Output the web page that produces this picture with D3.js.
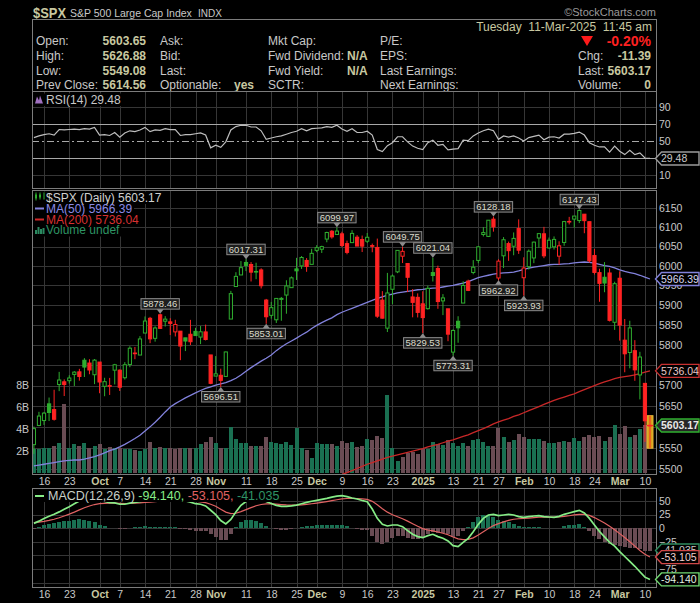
<!DOCTYPE html>
<html>
<head>
<meta charset="utf-8">
<script src="https://d3js.org/d3.v7.min.js"></script>
<style>
	body { margin: 0; background: #000; }
	svg { display: block; font-family: Arial, "Liberation Sans", sans-serif; }
</style>
</head>
<body>
<script>

// daily bars 12-Sep-2024 .. 11-Mar-2025 (last bar is intraday)
const dates = [
	"2024-09-12","2024-09-13","2024-09-16","2024-09-17","2024-09-18","2024-09-19","2024-09-20","2024-09-23","2024-09-24","2024-09-25","2024-09-26","2024-09-27","2024-09-30",
	"2024-10-01","2024-10-02","2024-10-03","2024-10-04","2024-10-07","2024-10-08","2024-10-09","2024-10-10","2024-10-11","2024-10-14","2024-10-15","2024-10-16","2024-10-17","2024-10-18","2024-10-21","2024-10-22","2024-10-23","2024-10-24","2024-10-25","2024-10-28","2024-10-29","2024-10-30","2024-10-31",
	"2024-11-01","2024-11-04","2024-11-05","2024-11-06","2024-11-07","2024-11-08","2024-11-11","2024-11-12","2024-11-13","2024-11-14","2024-11-15","2024-11-18","2024-11-19","2024-11-20","2024-11-21","2024-11-22","2024-11-25","2024-11-26","2024-11-27","2024-11-29",
	"2024-12-02","2024-12-03","2024-12-04","2024-12-05","2024-12-06","2024-12-09","2024-12-10","2024-12-11","2024-12-12","2024-12-13","2024-12-16","2024-12-17","2024-12-18","2024-12-19","2024-12-20","2024-12-23","2024-12-24","2024-12-26","2024-12-27","2024-12-30","2024-12-31",
	"2025-01-02","2025-01-03","2025-01-06","2025-01-07","2025-01-08","2025-01-10","2025-01-13","2025-01-14","2025-01-15","2025-01-16","2025-01-17","2025-01-21","2025-01-22","2025-01-23","2025-01-24","2025-01-27","2025-01-28","2025-01-29","2025-01-30","2025-01-31",
	"2025-02-03","2025-02-04","2025-02-05","2025-02-06","2025-02-07","2025-02-10","2025-02-11","2025-02-12","2025-02-13","2025-02-14","2025-02-18","2025-02-19","2025-02-20","2025-02-21","2025-02-24","2025-02-25","2025-02-26","2025-02-27","2025-02-28",
	"2025-03-03","2025-03-04","2025-03-05","2025-03-06","2025-03-07","2025-03-10","2025-03-11"
];

const open = [
	5557.48,5603.34,5615.21,5655.51,5641.68,5702.63,5709.22,5711.90,5727.34,5733.65,5762.22,5755.36,5726.52,
	5757.73,5698.14,5698.19,5737.80,5737.80,5719.14,5751.80,5778.36,5775.09,5829.81,5866.74,5816.58,5875.62,5859.43,5857.82,5832.70,5834.50,5817.80,5826.75,5833.93,5819.68,5832.65,5775.34,
	5723.22,5725.15,5722.43,5864.89,5947.21,5976.76,6008.86,6003.60,5985.75,5989.67,5912.79,5874.17,5863.04,5914.45,5925.51,5944.36,5992.28,6000.03,6014.11,6003.98,
	6040.11,6042.97,6069.39,6089.84,6081.38,6083.01,6057.59,6060.15,6074.29,6068.17,6063.79,6052.55,6047.65,5912.71,5842.00,5940.25,5984.74,6024.97,6006.17,5920.67,5919.74,
	5903.26,5891.07,5982.81,5993.26,5910.66,5890.66,5782.34,5859.28,5905.20,5961.01,5983.12,6014.12,6081.39,6076.32,6121.43,5969.04,6026.01,6057.70,6050.75,6096.79,
	5969.65,5998.14,6020.45,6072.22,6083.13,6046.40,6049.32,6025.08,6060.59,6115.52,6121.60,6117.76,6134.50,6114.82,6026.69,5982.73,5970.87,5981.88,5856.74,
	5968.33,5811.98,5781.39,5785.87,5726.01,5705.37,5603.65
];
const high = [
	5600.71,5636.27,5636.05,5670.81,5689.75,5733.57,5715.14,5725.36,5735.32,5741.03,5767.37,5764.76,5765.14,
	5757.73,5719.14,5718.78,5753.24,5739.34,5757.60,5796.80,5795.03,5822.13,5871.41,5870.36,5846.52,5878.46,5872.17,5866.92,5863.04,5834.85,5817.80,5862.82,5842.92,5847.19,5850.94,5775.34,
	5772.51,5741.43,5783.44,5936.14,5983.84,6012.45,6017.31,6009.92,6008.19,5993.88,5915.71,5908.12,5917.12,5920.67,5963.21,5972.90,6020.75,6025.42,6020.16,6044.17,
	6053.58,6052.07,6088.51,6092.80,6099.97,6088.51,6065.40,6092.59,6079.68,6078.58,6085.19,6057.68,6070.67,5935.52,5982.06,5978.25,6040.10,6049.75,6006.17,5940.79,5929.74,
	5935.09,5949.34,6021.04,6000.68,5927.89,5890.66,5838.91,5871.92,5960.61,5964.69,6014.96,6051.51,6100.81,6118.73,6128.18,6017.17,6074.54,6062.83,6086.64,6120.91,
	6022.13,6042.48,6062.86,6084.03,6101.28,6073.38,6076.28,6063.63,6116.91,6127.47,6129.63,6147.43,6134.50,6114.82,6043.65,5992.65,6009.82,5993.69,5959.40,
	5986.09,5865.08,5860.59,5812.08,5783.01,5705.37,5626.88
];
const low = [
	5535.50,5601.65,5604.53,5614.05,5615.08,5686.42,5674.49,5704.94,5698.99,5712.06,5721.01,5727.77,5703.53,
	5681.28,5674.00,5677.12,5702.83,5686.85,5714.56,5745.02,5764.76,5775.09,5829.81,5804.48,5808.34,5840.25,5846.11,5824.81,5821.17,5762.41,5784.92,5799.98,5823.08,5802.17,5811.28,5703.41,
	5723.22,5696.51,5722.10,5864.89,5947.21,5976.76,5986.69,5960.08,5965.91,5942.28,5853.01,5865.95,5855.01,5860.58,5878.26,5944.36,5963.91,5992.27,5984.87,6003.98,
	6035.33,6033.39,6061.15,6070.43,6079.98,6048.63,6029.89,6060.15,6051.25,6035.77,6059.14,6035.19,5867.79,5866.07,5832.30,5902.57,5981.44,6007.37,5932.95,5869.16,5868.86,
	5829.53,5888.66,5960.01,5890.68,5874.78,5809.44,5773.31,5805.58,5905.20,5935.54,5978.44,6006.88,6076.13,6074.67,6088.74,5962.92,5994.63,6012.96,6027.46,6030.93,
	5923.93,5990.87,6007.06,6046.83,6019.96,6044.84,6042.34,6003.00,6051.97,6107.62,6099.51,6111.15,6084.59,6008.56,5977.83,5908.49,5932.69,5858.78,5837.66,
	5810.91,5732.59,5742.35,5711.64,5666.29,5564.02,5549.08
];
const close = [
	5595.76,5626.02,5633.09,5634.58,5618.26,5713.64,5702.55,5718.57,5732.93,5722.26,5745.37,5738.17,5762.48,
	5708.75,5709.54,5699.94,5751.07,5695.94,5751.13,5792.04,5780.05,5815.03,5859.85,5815.26,5842.47,5841.47,5864.67,5853.98,5851.20,5797.42,5809.86,5808.12,5823.52,5832.92,5813.67,5705.45,
	5728.80,5712.69,5782.76,5929.04,5973.10,5995.54,6001.35,5983.99,5985.38,5949.17,5870.62,5893.62,5916.98,5917.11,5948.71,5969.34,5987.37,6021.63,5998.74,6032.38,
	6047.15,6049.88,6086.49,6075.11,6090.27,6052.85,6034.91,6084.19,6051.25,6051.09,6074.08,6050.61,5872.16,5867.08,5930.85,5974.07,6040.04,6037.59,5970.84,5906.94,5881.63,
	5868.55,5942.47,5975.38,5909.03,5918.25,5827.04,5836.22,5842.91,5949.91,5937.34,5996.66,6049.24,6086.37,6118.71,6101.24,6012.28,6067.70,6039.31,6071.17,6040.53,
	5994.57,6037.88,6061.48,6083.57,6025.99,6066.44,6068.50,6051.97,6115.07,6114.63,6129.58,6144.15,6117.52,6013.13,5983.25,5955.25,5956.06,5861.57,5954.50,
	5849.72,5778.15,5842.63,5738.52,5770.20,5614.56,5603.17
];

// volume, billions of shares
const volume = [
	2.2,2.2,2.25,2.25,2.45,2.7,6.3,2.3,2.6,2.45,2.7,2.25,2.5,
	2.6,2.15,2.35,2.3,2.25,2.2,2.15,2.1,2.0,2.2,2.85,2.3,2.4,2.25,2.3,2.2,2.3,2.3,2.3,2.25,2.6,2.85,3.3,
	2.7,2.3,2.3,4.15,3.1,2.75,2.75,2.5,2.5,2.5,3.25,2.85,2.7,2.6,2.85,2.55,4.1,2.3,2.05,1.4,
	2.7,2.6,2.65,2.64,2.45,2.9,2.76,2.82,2.33,2.45,3.09,3.0,3.36,3.15,7.09,2.24,1.09,1.42,1.79,1.94,1.73,
	2.15,2.15,2.82,2.64,2.52,3.0,2.7,2.45,2.7,2.45,3.0,3.09,2.82,2.45,2.45,4.06,3.24,2.82,3.0,3.55,
	3.24,3.09,3.09,3.09,2.91,2.7,2.7,2.82,2.9,2.8,3.2,2.9,3.3,3.45,3.3,3.4,2.9,3.3,4.36,
	3.55,4.27,3.3,3.45,4.0,4.36,0
];

const ma50 = [
	5507,5509,5511,5513,5515,5517,5519,5520,5521,5521,5523,5526,5529,
	5533,5538,5543,5547,5552,5558,5565,5572,5580,5590,5600,5611,5623,5636,5648,5656,5663,5670,5676,5682,5688,5693,5697,
	5701,5704,5707,5712,5718,5726,5735,5744,5752,5760,5767,5775,5786,5795,5803,5810,5817,5825,5832,5841,
	5849,5856,5862,5868,5876,5882,5887,5892,5897,5902,5907,5912,5917,5921,5925,5928,5931,5933,5935,5937,5939,
	5940,5942,5943,5944,5946,5948,5950,5953,5956,5960,5965,5970,5973,5976,5979,5981,5982,5983,5984,5987,
	5991,5994,5997,5999,6001,6003,6004,6004,6005,6006,6008,6009,6010,6009,6007,6004,6001,5999,5995,
	5990,5986,5983,5980,5976,5971,5966.39
];
const ma200Start = "2024-12-09";
const ma200 = [
	5487,5491,5496,5501,5506,5511,5515,5519,5523,5527,5530,5533,5536,5539,5542,5545,5548,5552,5555,5558,
	5562,5566,5569,5573,5577,5581,5586,5591,5596,5601,5607,5612,5616,5620,5625,5629,5634,5639,5644,5649,
	5654,5659,5664,5668,5672,5676,5680,5685,5690,5695,5700,5705,5709,5713,5717,5720,5722,5724,5726,5729,
	5733,5736.04
];

const rsi = [
	54,56,57.5,58.5,57,63.5,63,63.5,64,63.5,64.5,64,66,
	57,57.5,56.5,60,54.5,59.5,62,61,63,66,61,63,62.5,64.5,63.5,63.5,56.5,57.5,57.5,58.5,59.5,57,42,
	45,42.5,49,63,67,68.5,68.5,66.5,66.5,62,52,53.5,55,56,58,60,61.5,64.5,62,64.5,
	65,65.5,67,66,68.5,64,61.5,64.5,60,60,61.5,57,40,37.5,44.5,48,55,55,49,44,41.5,
	40,48,51,45,46,39.5,40.5,41,51,50.5,56,59.5,62,64,62,52,56,54.5,56,53.5,
	50,54,55.5,57,51.5,54.5,55,53.5,58,58,59,60.5,57,48,45,43,43,37,44,
	38,34,39,34,36,30,29.48
];

const macd = [
	8.9,13,18,22,25.5,30,35,39.5,45,50,53,54,54,
	51,49,47,46.5,44,44,46,47.5,49,51,51,52,52.5,53.5,54,54,51,50,48,45,44,41,33,
	25,14,8,16,30,42,49,53,55,53,49,45.5,42,40,40,41,42.5,45,47.5,49.5,
	51.2,53,54.8,57,59.1,59.7,57.9,55.5,53.6,51,48.8,35.3,18.1,7.1,4.1,5.9,5.9,2.8,-4.5,-11.2,-15.5,
	-17.4,-13.7,-11.2,-15.5,-18.6,-23.5,-32,-33.9,-26,-18.6,-6.4,7.1,18.1,24.3,25.5,23,24.3,25.5,24.3,21.2,
	20,21.2,22.4,23,21.2,20.6,20,21.8,25.5,27.9,30.4,32.8,28,18,6,-6,-16,-26,-33,
	-43,-52,-61,-70,-80,-90,-94.14
];
const signal = [
	10.5,11.0,12.4,14.3,16.5,19.2,22.4,25.8,29.6,33.7,37.6,40.9,43.5,
	45.0,45.8,46.0,46.1,45.7,45.4,45.5,45.9,46.5,47.4,48.1,48.9,49.6,50.4,51.1,51.7,51.6,51.3,50.6,49.5,48.4,46.9,44.1,
	40.3,35.0,29.6,26.9,27.5,30.4,34.1,37.9,41.3,43.6,44.7,44.9,44.3,43.4,42.7,42.4,42.4,42.9,43.8,44.9,
	46.2,47.6,49.0,50.6,52.3,53.8,54.6,54.8,54.6,53.9,52.9,49.4,43.1,35.9,29.5,24.8,21.0,17.4,13.0,8.2,3.5,
	-0.7,-3.3,-4.9,-7.0,-9.3,-12.1,-16.1,-19.7,-21.0,-20.5,-17.7,-12.7,-6.6,-0.4,4.8,8.4,11.6,14.4,16.4,17.4,
	17.9,18.6,19.4,20.1,20.3,20.4,20.3,20.6,21.6,22.9,24.4,25.5,25.5,23.5,19.5,14.5,9.5,3.5,-3,
	-10,-17,-25,-33,-41,-48,-53.105
];
const hist = [
	-1.6,2.0,5.6,7.7,9.0,10.8,12.6,13.7,15.4,16.3,15.4,13.1,10.5,
	6.0,3.2,1.0,0.4,-1.7,-1.4,0.5,1.6,2.5,3.6,2.9,3.1,2.9,3.1,2.9,2.3,-0.6,-1.3,-2.6,-4.5,-4.4,-5.9,-11.1,
	-15.3,-21.0,-21.6,-10.9,2.5,11.6,14.9,15.1,13.7,9.4,4.3,0.6,-2.3,-3.4,-2.7,-1.4,0.1,2.1,3.7,4.6,
	5.0,5.4,5.8,6.4,6.8,5.9,3.3,0.7,-1.0,-2.9,-4.1,-14.1,-25.0,-28.8,-25.4,-18.9,-15.1,-14.6,-17.5,-19.4,-19.0,
	-16.7,-10.4,-6.3,-8.5,-9.3,-11.4,-15.9,-14.2,-5.0,1.9,11.3,19.8,24.7,24.7,20.7,14.6,12.7,11.1,7.9,3.8,
	2.1,2.6,3.0,2.9,0.9,0.2,-0.3,1.2,3.9,5.0,6.0,7.3,2.5,-5.5,-13.5,-20.5,-25.5,-29.5,-30,
	-33,-35,-36,-37,-39,-42,-41.035
];

const tickDates = ["2024-09-16","2024-09-23","2024-10-01","2024-10-07","2024-10-14","2024-10-21","2024-10-28","2024-11-01","2024-11-11","2024-11-18","2024-11-25",
	"2024-12-02","2024-12-09","2024-12-16","2024-12-23","2025-01-02","2025-01-13","2025-01-21","2025-01-27","2025-02-03","2025-02-10","2025-02-18","2025-02-24","2025-03-03","2025-03-10"];
const tickLabels = ["16","23","Oct","7","14","21","28","Nov","11","18","25","Dec","9","16","23","2025","13","21","27","Feb","10","18","24","Mar","10"];
const monthLabels = ["Oct","Nov","Dec","2025","Feb","Mar"];

// grid levels, and the axis labels left visible beside the value tags
const priceTicks = [5500,5550,5600,5650,5700,5750,5800,5850,5900,5950,6000,6050,6100,6150];
const priceLabels = [5500,5550,5650,5700,5800,5850,5900,5950,6000,6050,6100,6150];
const volTicks = [2,4,6,8];
const rsiLabels = [90,70,50,10];
const macdTicks = [50,25,0,-25,-50,-75,-100];
const macdLabels = [50,25,0,-25,-75];

const highNotes = ["2024-10-17","2024-11-11","2024-12-06","2024-12-26","2025-01-06","2025-01-24","2025-02-19"];
const lowNotes = ["2024-11-04","2024-11-15","2025-01-02","2025-01-13","2025-01-27","2025-02-03"];

const rowLabels = [
	["Open:","High:","Low:","Prev Close:"],
	["Ask:","Bid:","Last:","Optionable:"],
	["Mkt Cap:","Fwd Dividend:","Fwd Yield:","SCTR:"],
	["P/E:","EPS:","Last Earnings:","Next Earnings:"],
	["","Chg:","Last:","Volume:"]
];
const rowValues = [
	["5603.65","5626.88","5549.08","5614.56"],
	["","","","yes"],
	["","N/A","N/A",""],
	["","","",""],
	["-0.20%","-11.39","5603.17","0"]
];


const W = 700, H = 603, left = 32, right = 656;
const gridColor = "#363636", frameColor = "#7c7c7c", textColor = "#c8c8c8", valueColor = "#c8c8a0";
const upColor = "#2fae2f", downColor = "#ff2323", volUp = "#1a7052", volDown = "#6a4c54";

var svg = d3.select("body").append("svg").attr("width", W).attr("height", H);
svg.append("rect").attr("width", W).attr("height", H).attr("fill", "#000");

var x = d3.scaleLinear().domain([-0.38, dates.length + 0.19]).range([left, right]);
var tickIdx = tickDates.map(d => dates.indexOf(d));
var ma200Off = dates.indexOf(ma200Start);

const RP = {top: 91, bottom: 188}, PP = {top: 190, bottom: 474}, MP = {top: 488, bottom: 587};
var yR = d3.scaleLinear().domain([10, 90]).range([175, 107]);
var yP = d3.scaleLog().domain([5500, 6150]).range([468.9, 208.3]);
var yV = d3.scaleLinear().domain([0, 8]).range([473, 385]);
var yM = d3.scaleLinear().domain([-75, 50]).range([569, 501]);

function clip(id, p) {
	svg.append("clipPath").attr("id", id).append("rect")
		.attr("x", left).attr("y", p.top).attr("width", right - left).attr("height", p.bottom - p.top);
}
clip("cR", RP); clip("cP", PP); clip("cM", MP);

function grid(p, scale, values) {
	var g = svg.append("g").attr("shape-rendering", "crispEdges");
	g.selectAll("line.v").data(tickIdx).enter().append("line")
		.attr("x1", d => Math.round(x(d)) + 0.5).attr("x2", d => Math.round(x(d)) + 0.5)
		.attr("y1", p.top).attr("y2", p.bottom).attr("stroke", gridColor);
	g.selectAll("line.h").data(values).enter().append("line")
		.attr("x1", left).attr("x2", right)
		.attr("y1", d => Math.round(scale(d)) + 0.5).attr("y2", d => Math.round(scale(d)) + 0.5)
		.attr("stroke", gridColor);
}
function frame(p) {
	svg.append("rect").attr("x", left + 0.5).attr("y", p.top + 0.5)
		.attr("width", right - left).attr("height", p.bottom - p.top)
		.attr("fill", "none").attr("stroke", frameColor).attr("shape-rendering", "crispEdges");
}
function rightAxis(scale, values, fmt) {
	var g = svg.append("g").attr("transform", "translate(" + right + ",0)")
		.call(d3.axisRight(scale).tickValues(values).tickFormat(fmt).tickSize(0).tickPadding(3))
		.call(g => g.select(".domain").remove());
	g.attr("font-family", null).attr("font-size", 10.5);
	g.selectAll("text").attr("fill", textColor);
}
function tag(yc, label, stroke, fill, color, bold) {
	var g = svg.append("g").attr("transform", "translate(0," + yc + ")");
	g.append("path").attr("d", "M655.5,0 L661.5,-6.5 L699,-6.5 L699,6.5 L661.5,6.5 Z")
		.attr("fill", fill).attr("stroke", stroke).attr("stroke-width", 1.4);
	g.append("text").attr("x", 661).attr("dy", "0.36em").attr("font-size", 10.5)
		.attr("font-weight", bold ? "bold" : "normal").attr("fill", color).text(label);
}
function dateAxis(yc) {
	var g = svg.append("g").attr("transform", "translate(0," + yc + ")")
		.call(d3.axisBottom(x).tickValues(tickIdx).tickFormat(d => tickLabels[tickIdx.indexOf(d)]).tickSize(0))
		.call(g => g.select(".domain").remove());
	g.attr("font-family", null).attr("font-size", 10.5);
	g.selectAll("text").attr("y", 0).attr("dy", "0.36em")
		.attr("fill", d => monthLabels.includes(tickLabels[tickIdx.indexOf(d)]) ? valueColor : textColor)
		.attr("font-weight", d => monthLabels.includes(tickLabels[tickIdx.indexOf(d)]) ? "bold" : "normal");
}
// legend block: black backings (hide the grid) drawn under every row, then icons and text
function legend(rows) {
	var bgs = svg.append("g"), fg = svg.append("g");
	rows.forEach(r => {
		r.icon(fg, r.y);
		var t = fg.append("text").attr("x", 46).attr("y", r.y).attr("font-size", 12).attr("fill", r.color).text(r.label);
		bgs.append("rect").attr("fill", "#000").attr("x", left + 1).attr("y", r.y - 10)
			.attr("width", 46 + t.node().getComputedTextLength() + 2 - (left + 1)).attr("height", 12.5);
	});
}

// ---------- header ----------
svg.append("text").attr("x", 33).attr("y", 17.5).attr("font-size", 15).attr("font-weight", "bold")
	.attr("fill", valueColor).attr("textLength", 33).attr("lengthAdjust", "spacingAndGlyphs").text("$SPX");
svg.append("text").attr("x", 70).attr("y", 16.5).attr("font-size", 10.5).attr("fill", textColor).text("S&P 500 Large Cap Index");
svg.append("text").attr("x", 198).attr("y", 16.5).attr("font-size", 10).attr("fill", textColor).text("INDX");
svg.append("text").attr("x", 656).attr("y", 15.5).attr("font-size", 11).attr("fill", "#9a9a9a")
	.attr("text-anchor", "end").text("\u00A9StockCharts.com");
svg.append("rect").attr("x", left + 0.5).attr("y", 19.5).attr("width", right - left).attr("height", RP.top - 19.5)
	.attr("fill", "none").attr("stroke", frameColor).attr("shape-rendering", "crispEdges");
svg.append("text").attr("x", 652).attr("y", 31).attr("font-size", 12).attr("fill", valueColor)
	.attr("text-anchor", "end").attr("xml:space", "preserve").text("Tuesday  11-Mar-2025  11:45 am");

const rowY = [45, 60, 74.5, 89];
const colX = [36, 160, 268, 380, 578];
rowLabels.forEach((col, c) => col.forEach((t, r) => {
	if (t) svg.append("text").attr("x", colX[c]).attr("y", rowY[r]).attr("font-size", 12).attr("fill", textColor).text(t);
}));
const valX = [146, 254, 347, 0, 651];
rowValues.forEach((col, c) => col.forEach((t, r) => {
	if (!t) return;
	var big = (c === 4 && r === 0);
	svg.append("text").attr("x", valX[c]).attr("y", rowY[r] + (big ? 1 : 0))
		.attr("font-size", big ? 14 : 12).attr("font-weight", "bold")
		.attr("text-anchor", c === 2 ? "start" : "end")
		.attr("fill", big ? "#ff2020" : valueColor).text(t);
}));
svg.append("path").attr("d", "M581,36 L593,36 L587,46 Z").attr("fill", "#ff1a1a");

// ---------- RSI panel ----------
grid(RP, yR, [10, 90]);
svg.append("g").selectAll("line").data([70, 50, 30]).enter().append("line")
	.attr("x1", left).attr("x2", right)
	.attr("y1", d => Math.round(yR(d)) + 0.5).attr("y2", d => Math.round(yR(d)) + 0.5)
	.attr("stroke", "#a8a8a8").attr("stroke-dasharray", d => d === 50 ? "7,3,2,3" : null)
	.attr("shape-rendering", "crispEdges");
svg.append("path").datum(rsi).attr("clip-path", "url(#cR)")
	.attr("d", d3.line().x((d, i) => x(i)).y(d => yR(d)))
	.attr("fill", "none").attr("stroke", "#bdbdbd").attr("stroke-width", 1.2);
frame(RP);
legend([{y: 103.5, label: "RSI(14) " + rsi[rsi.length - 1].toFixed(2), color: textColor, icon: (g, b) =>
	g.append("path").attr("d", "M35," + b + " L37," + (b - 7) + " L39," + (b - 3) + " L40," + (b - 8) + " L43," + b + " Z").attr("fill", "#a070c0")}]);
rightAxis(yR, rsiLabels, d3.format("d"));
tag(yR(rsi[rsi.length - 1]), rsi[rsi.length - 1].toFixed(2), "#9a9a9a", "#000", textColor, false);

// ---------- price panel ----------
grid(PP, yP, priceTicks);
var last = dates.length - 1;
var up = (i) => i === 0 ? close[i] >= open[i] : close[i] >= close[i - 1];

var pg = svg.append("g").attr("clip-path", "url(#cP)");
pg.append("g").attr("shape-rendering", "crispEdges").selectAll("rect").data(volume).enter().append("rect")
	.attr("x", (d, i) => Math.round(x(i) - 2)).attr("width", 4)
	.attr("y", d => yV(d)).attr("height", d => yV(0) - yV(d))
	.attr("fill", (d, i) => up(i) ? volUp : volDown);

pg.append("path").datum(ma50)
	.attr("d", d3.line().x((d, i) => x(i)).y(d => yP(d)))
	.attr("fill", "none").attr("stroke", "#8282dc").attr("stroke-width", 1.3);
pg.append("path").datum(ma200)
	.attr("d", d3.line().x((d, i) => x(i + ma200Off)).y(d => yP(d)))
	.attr("fill", "none").attr("stroke", "#c82828").attr("stroke-width", 1.3);

// latest (intraday) bar highlighted
pg.append("rect").attr("x", x(last) - 3).attr("width", 6)
	.attr("y", yP(high[last])).attr("height", yP(low[last]) - yP(high[last]))
	.attr("fill", "#d6a21c").attr("stroke", "#e8b838");

var cg = pg.append("g").selectAll("g").data(d3.range(dates.length)).enter().append("g");
cg.append("line")
	.attr("x1", i => x(i)).attr("x2", i => x(i))
	.attr("y1", i => yP(high[i])).attr("y2", i => yP(low[i]))
	.attr("stroke", i => up(i) ? upColor : downColor);
cg.append("rect")
	.attr("x", i => x(i) - 1.6).attr("width", 3.2)
	.attr("y", i => yP(Math.max(open[i], close[i])))
	.attr("height", i => Math.max(0.6, yP(Math.min(open[i], close[i])) - yP(Math.max(open[i], close[i]))))
	.attr("fill", i => close[i] > open[i] ? "#000" : (up(i) ? upColor : downColor))
	.attr("stroke", i => up(i) ? upColor : downColor).attr("stroke-width", 1);
cg.filter(i => i === last).append("line")
	.attr("x1", i => x(i) - 3).attr("x2", i => x(i) + 3)
	.attr("y1", i => yP(close[i])).attr("y2", i => yP(close[i]))
	.attr("stroke", downColor).attr("stroke-width", 1.2);

function note(dateStr, isHigh) {
	var i = dates.indexOf(dateStr);
	var v = isHigh ? high[i] : low[i];
	var cx = x(i), cy = yP(v), h = 10.5;
	var g = svg.append("g");
	var t = g.append("text").attr("font-size", 9.5).attr("fill", "#dcdccc").attr("text-anchor", "middle").text(v.toFixed(2));
	var w = t.node().getComputedTextLength() + 4;
	var by = isHigh ? cy - 4.5 - h : cy + 4.5;
	g.insert("rect", "text").attr("x", cx - w / 2).attr("y", by).attr("width", w).attr("height", h)
		.attr("fill", "#1e1e1e").attr("stroke", "#8c8c8c");
	var ty = isHigh ? cy - 4.5 : cy + 4.5;
	g.insert("path", "text").attr("d", "M" + (cx - 3.5) + "," + ty + " L" + (cx + 3.5) + "," + ty + " L" + cx + "," + cy + " Z")
		.attr("fill", "#8c8c8c");
	t.attr("x", cx).attr("y", by + h / 2).attr("dy", "0.36em");
}
highNotes.forEach(d => note(d, true));
lowNotes.forEach(d => note(d, false));
frame(PP);

legend([
	{y: 201.5, label: "$SPX (Daily) " + close[last].toFixed(2), color: "#d0d0d0", icon: (g, b) => {
		[[36, 8, 4], [40, 7, 3], [44, 7, 0]].forEach(c => {
			g.append("line").attr("x1", c[0]).attr("x2", c[0]).attr("y1", b - 9).attr("y2", b - 9 + c[1]).attr("stroke", upColor);
			if (c[2]) g.append("rect").attr("x", c[0] - 1).attr("y", b - 7).attr("width", 2).attr("height", c[2]).attr("fill", upColor);
		});
	}},
	{y: 212.5, label: "MA(50) " + ma50[ma50.length - 1].toFixed(2), color: "#8a8ae6", icon: (g, b) =>
		g.append("line").attr("x1", 35).attr("x2", 44).attr("y1", b - 4).attr("y2", b - 4).attr("stroke", "#8282dc").attr("stroke-width", 2)},
	{y: 223.5, label: "MA(200) " + ma200[ma200.length - 1].toFixed(2), color: "#d83030", icon: (g, b) =>
		g.append("line").attr("x1", 35).attr("x2", 44).attr("y1", b - 4).attr("y2", b - 4).attr("stroke", "#d02828").attr("stroke-width", 2)},
	{y: 234, label: "Volume undef", color: "#2e9464", icon: (g, b) =>
		[[35, 4], [37.5, 7], [40, 5], [42.5, 6]].forEach(c => g.append("rect").attr("x", c[0]).attr("y", b - c[1])
			.attr("width", 2).attr("height", c[1]).attr("fill", "#2a8a60"))}
]);

rightAxis(yP, priceLabels, d3.format("d"));
var vl = svg.append("g").attr("font-size", 10.5).attr("fill", textColor);
vl.selectAll("text").data(volTicks).enter().append("text")
	.attr("x", 29).attr("y", d => yV(d)).attr("dy", "0.36em").attr("text-anchor", "end").text(d => d + "B");

tag(yP(ma50[ma50.length - 1]), ma50[ma50.length - 1].toFixed(2), "#8282dc", "#000", "#d8d8f0", false);
tag(yP(ma200[ma200.length - 1]), ma200[ma200.length - 1].toFixed(2), "#c83030", "#000", "#e8c8c8", false);
tag(yP(close[last]), close[last].toFixed(2), "#30b030", "#262626", "#e8e8e8", true);

dateAxis(481);

// ---------- MACD panel ----------
grid(MP, yM, macdTicks);
var mg = svg.append("g").attr("clip-path", "url(#cM)");
mg.append("g").attr("shape-rendering", "crispEdges").selectAll("rect").data(hist).enter().append("rect")
	.attr("x", (d, i) => Math.round(x(i) - 2)).attr("width", 4)
	.attr("y", d => yM(Math.max(0, d))).attr("height", d => Math.abs(yM(d) - yM(0)))
	.attr("fill", d => d >= 0 ? volUp : volDown);
mg.append("path").datum(signal)
	.attr("d", d3.line().x((d, i) => x(i)).y(d => yM(d)))
	.attr("fill", "none").attr("stroke", "#e06262").attr("stroke-width", 1.2);
mg.append("path").datum(macd)
	.attr("d", d3.line().x((d, i) => x(i)).y(d => yM(d)))
	.attr("fill", "none").attr("stroke", "#86ec86").attr("stroke-width", 1.7);
frame(MP);

var ml = svg.append("text").attr("x", 48).attr("y", 500).attr("font-size", 12.5);
ml.append("tspan").attr("fill", "#c8d0c8").text("MACD(12,26,9) ");
ml.append("tspan").attr("fill", "#86ec86").text(macd[macd.length - 1].toFixed(3) + ", ");
ml.append("tspan").attr("fill", "#e06262").text(signal[signal.length - 1].toFixed(3) + ", ");
ml.append("tspan").attr("fill", "#2f9466").text(hist[hist.length - 1].toFixed(3));
var mlw = ml.node().getComputedTextLength();
svg.insert("rect", function() { return ml.node(); }).attr("x", left + 1).attr("y", MP.top + 1)
	.attr("width", mlw + 16).attr("height", 13).attr("fill", "#000");
svg.append("line").attr("x1", 35).attr("x2", 44).attr("y1", 496).attr("y2", 496).attr("stroke", "#86ec86").attr("stroke-width", 2);

rightAxis(yM, macdLabels, d3.format("d"));
tag(yM(hist[hist.length - 1]), hist[hist.length - 1].toFixed(3), "#2f8a5e", "#000", textColor, false);
tag(yM(signal[signal.length - 1]), signal[signal.length - 1].toFixed(3), "#d04848", "#000", "#f0d0d0", false);
tag(yM(macd[macd.length - 1]), macd[macd.length - 1].toFixed(3), "#70d870", "#000", "#e0f0e0", false);

dateAxis(594);

</script>
</body>
</html>
